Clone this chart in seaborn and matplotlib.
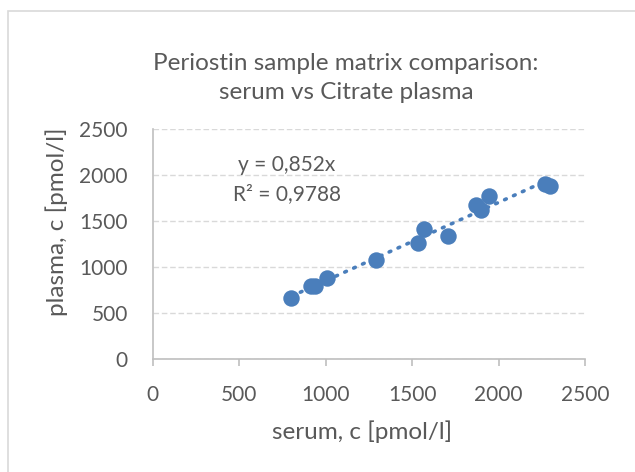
import matplotlib
matplotlib.use("Agg")
import matplotlib.pyplot as plt
import matplotlib.patches as mpatches
import seaborn as sns
import numpy as np
import pandas as pd

serum = [802, 914, 941, 1010, 1293, 1536, 1568, 1707, 1871, 1896, 1942, 2271, 2295]
plasma = [666, 793, 793, 877, 1076, 1264, 1420, 1337, 1674, 1627, 1772, 1910, 1884]
slope = 0.852
r2_label = "0,9788"
slope_label = "0,852"
xticks = [0, 500, 1000, 1500, 2000, 2500]
yticks = [0, 500, 1000, 1500, 2000, 2500]

title = "Periostin sample matrix comparison:\nserum vs Citrate plasma"
xlabel = "serum, c [pmol/l]"
ylabel = "plasma, c [pmol/l]"

sns.set_style("white")
plt.rcParams['font.family'] = ['Lato', 'DejaVu Sans']

blue = "#4A7EBB"
grey_txt = "#595959"

df = pd.DataFrame({"serum": serum, "plasma": plasma})
xs = np.array([min(serum), max(serum)])
trend = pd.DataFrame({"serum": xs, "plasma": slope * xs})

fig = plt.figure(figsize=(6.35, 4.72), dpi=100)
fig.patch.set_facecolor("white")
border = mpatches.Rectangle((7.5 / 635, -0.01), 1.05, (472 - 11) / 472 + 0.01,
                            transform=fig.transFigure, fill=False,
                            edgecolor="#D9D9D9", linewidth=1.2)
fig.patches.append(border)

ax = fig.add_axes([152.8 / 635, 1 - 359 / 472, (585 - 152.8) / 635, (359 - 129.3) / 472])

sns.lineplot(data=trend, x="serum", y="plasma", ax=ax, color=blue,
             linewidth=2.6, linestyle=(0, (0.5, 2.2)), zorder=2)
for l in ax.lines:
    l.set_dash_capstyle("round")
sns.scatterplot(data=df, x="serum", y="plasma", ax=ax, color=blue, s=140,
                edgecolor=blue, linewidth=0, zorder=3)

ax.set_xlim(0, 2500)
ax.set_ylim(0, 2500)
ax.set_xticks(xticks)
ax.set_yticks(yticks)
ax.set_xticklabels([str(t) for t in xticks])
ax.set_yticklabels([str(t) for t in yticks])
ax.grid(axis="y", color="#D9D9D9", linestyle=(0, (4, 2)), linewidth=1)
ax.grid(axis="x", visible=False)
ax.set_axisbelow(True)
for s in ["top", "right"]:
    ax.spines[s].set_visible(False)
for s in ["left", "bottom"]:
    ax.spines[s].set_color("#BFBFBF")
    ax.spines[s].set_linewidth(1.2)
ax.tick_params(axis="x", length=5, width=1.2, color="#BFBFBF", direction="out",
               labelsize=15, labelcolor=grey_txt, pad=14)
ax.tick_params(axis="y", length=0, labelsize=15, labelcolor=grey_txt, pad=18)
ax.xaxis.set_ticks_position("bottom")

ax.set_xlabel(xlabel, fontsize=17.5, color=grey_txt)
ax.set_ylabel(ylabel, fontsize=17.5, color=grey_txt)
ax.xaxis.set_label_coords((362 - 152.8) / (585 - 152.8), -(432 - 359) / (359 - 129.3))
ax.xaxis.label.set_verticalalignment("center")
ax.yaxis.set_label_coords(-(152.8 - 57) / (585 - 152.8), (359 - 222) / (359 - 129.3))
ax.yaxis.label.set_verticalalignment("center")

ax.text(775, 1950, f"y = {slope_label}x\nR² = {r2_label}", ha="center", va="center",
        fontsize=15, color=grey_txt, linespacing=1.55)

fig.text(346 / 635, 1 - 78 / 472, title, ha="center", va="center",
         fontsize=17.5, color=grey_txt, linespacing=1.45)

fig.savefig("out.png", dpi=100, facecolor="white")
